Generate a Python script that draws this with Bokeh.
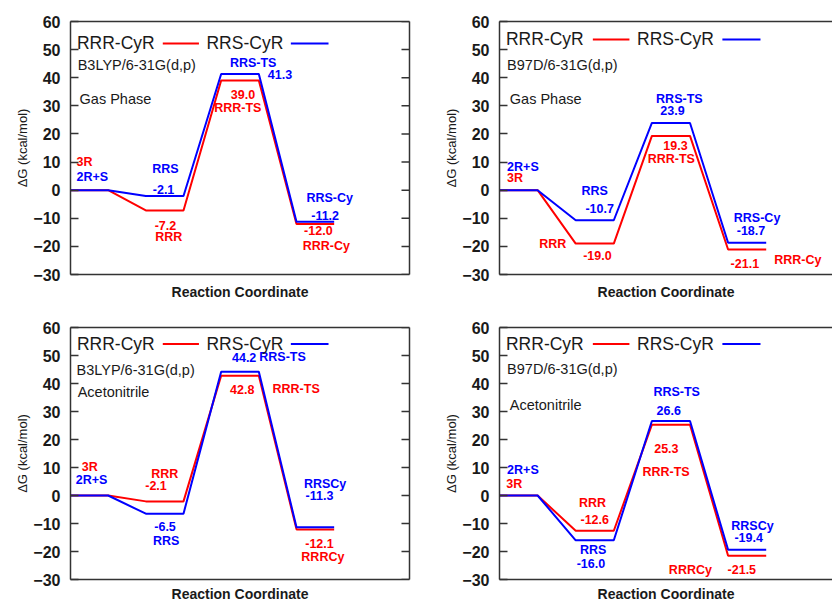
from bokeh.plotting import figure
from bokeh.models import Range1d, LinearAxis, FixedTicker
from bokeh.layouts import column, row
from bokeh.embed import file_html
from bokeh.resources import INLINE
from bokeh.core.properties import value

# ---- data (kcal/mol): reactants, intermediate, TS, product ----
stages = [0, 1, 2, 3]
b3lyp_gas_rrr = [0.0, -7.2, 39.0, -12.0]
b3lyp_gas_rrs = [0.0, -2.1, 41.3, -11.2]
b97d_gas_rrr = [0.0, -19.0, 19.3, -21.1]
b97d_gas_rrs = [0.0, -10.7, 23.9, -18.7]
b3lyp_acn_rrr = [0.0, -2.1, 42.8, -12.1]
b3lyp_acn_rrs = [0.0, -6.5, 44.2, -11.3]
b97d_acn_rrr = [0.0, -12.6, 25.3, -21.5]
b97d_acn_rrs = [0.0, -16.0, 26.6, -19.4]
y_ticks = [-30, -20, -10, 0, 10, 20, 30, 40, 50, 60]
series_names = ["RRR-CyR", "RRS-CyR"]

RED = "#ff0000"
BLUE = "#0000ff"
FONT = "Liberation Sans"
INK = "#1a1a1a"
FRAME = "#333333"

# annotation placement: (text or (series, stage index), x, y, series, align)
notes_p1 = [
    ("3R", 0.16, 9.9, "rrr", "left"), ("2R+S", 0.16, 4.8, "rrs", "left"),
    ("RRS", 2.52, 7.6, "rrs", "center"), (("rrs", 1), 2.47, 0.4, "rrs", "center"),
    (("rrr", 1), 2.52, -12.4, "rrr", "center"), ("RRR", 2.61, -16.5, "rrr", "center"),
    ("RRS-TS", 4.85, 45.1, "rrs", "center"), (("rrs", 2), 5.56, 41.3, "rrs", "center"),
    (("rrr", 2), 4.58, 34.2, "rrr", "center"), ("RRR-TS", 4.44, 29.3, "rrr", "center"),
    ("RRS-Cy", 6.88, -2.8, "rrs", "center"), (("rrs", 3), 6.76, -8.9, "rrs", "center"),
    (("rrr", 3), 6.58, -14.5, "rrr", "center"), ("RRR-Cy", 6.79, -19.7, "rrr", "center"),
]
notes_p2 = [
    ("2R+S", 0.2, 8.4, "rrs", "left"), ("3R", 0.2, 4.4, "rrr", "left"),
    ("RRS", 2.50, -0.4, "rrs", "center"), (("rrs", 1), 2.63, -6.5, "rrs", "center"),
    ("RRR", 1.40, -19.2, "rrr", "center"), (("rrr", 1), 2.57, -23.2, "rrr", "center"),
    ("RRS-TS", 4.72, 32.4, "rrs", "center"), (("rrs", 2), 4.54, 28.3, "rrs", "center"),
    (("rrr", 2), 4.62, 15.8, "rrr", "center"), ("RRR-TS", 4.51, 11.1, "rrr", "center"),
    ("RRS-Cy", 6.76, -10.0, "rrs", "center"), (("rrs", 3), 6.60, -14.5, "rrs", "center"),
    (("rrr", 3), 6.44, -26.1, "rrr", "center"), ("RRR-Cy", 7.83, -24.7, "rrr", "center"),
]
notes_p3 = [
    ("3R", 0.51, 10.2, "rrr", "center"), ("2R+S", 0.56, 5.4, "rrs", "center"),
    ("RRR", 2.50, 7.7, "rrr", "center"), (("rrr", 1), 2.27, 3.4, "rrr", "center"),
    (("rrs", 1), 2.51, -11.1, "rrs", "center"), ("RRS", 2.54, -16.3, "rrs", "center"),
    (("rrs", 2), 4.61, 49.4, "rrs", "center"), ("RRS-TS", 5.63, 49.4, "rrs", "center"),
    (("rrr", 2), 4.56, 37.9, "rrr", "center"), ("RRR-TS", 5.99, 37.9, "rrr", "center"),
    ("RRSCy", 6.76, 4.0, "rrs", "center"), (("rrs", 3), 6.61, 0.1, "rrs", "center"),
    (("rrr", 3), 6.61, -17.3, "rrr", "center"), ("RRRCy", 6.70, -22.0, "rrr", "center"),
]
notes_p4 = [
    ("2R+S", 0.2, 9.0, "rrs", "left"), ("3R", 0.18, 4.2, "rrr", "left"),
    ("RRR", 2.44, -2.5, "rrr", "center"), (("rrr", 1), 2.50, -8.4, "rrr", "center"),
    ("RRS", 2.46, -19.6, "rrs", "center"), (("rrs", 1), 2.40, -24.3, "rrs", "center"),
    ("RRS-TS", 4.65, 37.0, "rrs", "center"), (("rrs", 2), 4.44, 30.5, "rrs", "center"),
    (("rrr", 2), 4.38, 16.7, "rrr", "center"), ("RRR-TS", 4.37, 8.3, "rrr", "center"),
    ("RRSCy", 6.64, -10.8, "rrs", "center"), (("rrs", 3), 6.54, -14.9, "rrs", "center"),
    ("RRRCy", 5.01, -26.5, "rrr", "center"), (("rrr", 3), 6.36, -26.5, "rrr", "center"),
]


def make_panel(rrr, rrs, method, phase, notes, method_pos, phase_pos, legend_y,
               xmax, width, height, b_left, b_right, b_top, b_bottom, right_axis,
               label_standoff):
    frame_w = width - b_left - b_right
    p = figure(width=width, height=height, output_backend="svg", toolbar_location=None,
               x_range=Range1d(0, xmax), y_range=Range1d(-30, 60),
               min_border_left=b_left, min_border_right=b_right,
               min_border_top=b_top, min_border_bottom=b_bottom,
               x_axis_location=None, y_axis_location=None)
    p.outline_line_color = None
    p.xgrid.visible = False
    p.ygrid.visible = False
    p.background_fill_color = "white"
    p.border_fill_color = "white"

    def frame_axis(ax):
        ax.axis_line_color = FRAME
        ax.axis_line_width = 1.5
        ax.minor_tick_line_color = None
        ax.major_tick_line_color = FRAME
        ax.major_tick_line_width = 1.5
        ax.major_tick_out = 0
        return ax

    left = frame_axis(LinearAxis(ticker=FixedTicker(ticks=y_ticks)))
    left.major_tick_in = 8
    left.major_label_standoff = 10
    left.major_label_text_font = FONT
    left.major_label_text_font_size = "16px"
    left.major_label_text_font_style = "bold"
    left.major_label_text_color = INK
    left.axis_label = "\u0394G (kcal/mol)"
    left.axis_label_text_font = FONT
    left.axis_label_text_font_size = "13px"
    left.axis_label_text_font_style = "normal"
    left.axis_label_text_color = INK
    left.axis_label_standoff = 0
    p.add_layout(left, "left")

    if right_axis:
        right = frame_axis(LinearAxis(ticker=FixedTicker(ticks=[])))
        right.major_tick_in = 0
        right.major_label_standoff = 0
        p.add_layout(right, "right")
        # inward tick marks on the right border (8 px long)
        tick_len = 8.0 * xmax / frame_w
        p.segment(x0=[xmax - tick_len] * len(y_ticks), x1=[xmax] * len(y_ticks),
                  y0=y_ticks, y1=y_ticks, line_color=FRAME, line_width=1.5)

    bottom = frame_axis(LinearAxis(ticker=FixedTicker(ticks=[])))
    bottom.major_tick_in = 0
    bottom.major_label_standoff = 0
    bottom.axis_label = "Reaction Coordinate"
    bottom.axis_label_text_font = FONT
    bottom.axis_label_text_font_size = "14px"
    bottom.axis_label_text_font_style = "bold"
    bottom.axis_label_text_color = INK
    bottom.axis_label_standoff = label_standoff
    p.add_layout(bottom, "below")

    top = frame_axis(LinearAxis(ticker=FixedTicker(ticks=[])))
    top.major_tick_in = 0
    top.major_label_standoff = 0
    p.add_layout(top, "above")

    series = {"rrr": (rrr, RED), "rrs": (rrs, BLUE)}
    for key in ["rrr", "rrs"]:
        vals, col = series[key]
        xs = [2 * s + k for s in stages for k in (0, 1)]
        ys = [vals[s] for s in stages for k in (0, 1)]
        p.line(xs, ys, line_color=col, line_width=2)

    for txt, x, y, key, align in notes:
        vals, col = series[key]
        if isinstance(txt, tuple):
            txt = f"{series[txt[0]][0][txt[1]]:.1f}"
        p.text(x=[x], y=[y], text=[txt], text_font=value(FONT), text_font_size="12.5px",
               text_font_style="bold", text_color=col, text_align=align,
               text_baseline="middle")

    p.text(x=[method_pos[0]], y=[method_pos[1]], text=[method], text_font=value(FONT),
           text_font_size="14.5px", text_color=INK, text_align="left", text_baseline="middle")
    p.text(x=[phase_pos[0]], y=[phase_pos[1]], text=[phase], text_font=value(FONT),
           text_font_size="14.5px", text_color=INK, text_align="left", text_baseline="middle")

    # key: text followed by line sample (gnuplot style)
    p.text(x=[0.17], y=[legend_y], text=[series_names[0]], text_font=value(FONT),
           text_font_size="17.5px", text_color=INK, text_align="left", text_baseline="middle")
    p.line([2.45, 3.41], [legend_y, legend_y], line_color=RED, line_width=2)
    p.text(x=[3.61], y=[legend_y], text=[series_names[1]], text_font=value(FONT),
           text_font_size="17.5px", text_color=INK, text_align="left", text_baseline="middle")
    p.line([5.85, 6.85], [legend_y, legend_y], line_color=BLUE, line_width=2)
    return p


p1 = make_panel(b3lyp_gas_rrr, b3lyp_gas_rrs, "B3LYP/6-31G(d,p)", "Gas Phase", notes_p1,
                (0.19, 44.5), (0.24, 32.5), 52.2, 9.0, 416, 302, 70, 7, 21, 25, True, 9)
p2 = make_panel(b97d_gas_rrr, b97d_gas_rrs, "B97D/6-31G(d,p)", "Gas Phase", notes_p2,
                (0.2, 44.5), (0.27, 32.5), 53.6, 8.74, 416, 302, 83, 0, 21, 25, False, 9)
p3 = make_panel(b3lyp_acn_rrr, b3lyp_acn_rrs, "B3LYP/6-31G(d,p)", "Acetonitrile", notes_p3,
                (0.16, 44.7), (0.19, 37.0), 54.1, 9.0, 416, 302, 70, 7, 25, 23, True, 6)
p4 = make_panel(b97d_acn_rrr, b97d_acn_rrs, "B97D/6-31G(d,p)", "Acetonitrile", notes_p4,
                (0.2, 45.3), (0.27, 32.3), 54.1, 8.74, 416, 302, 83, 0, 25, 23, False, 6)

layout = column(row(p1, p2), row(p3, p4))
open("out.html", "w").write(file_html(layout, INLINE))
